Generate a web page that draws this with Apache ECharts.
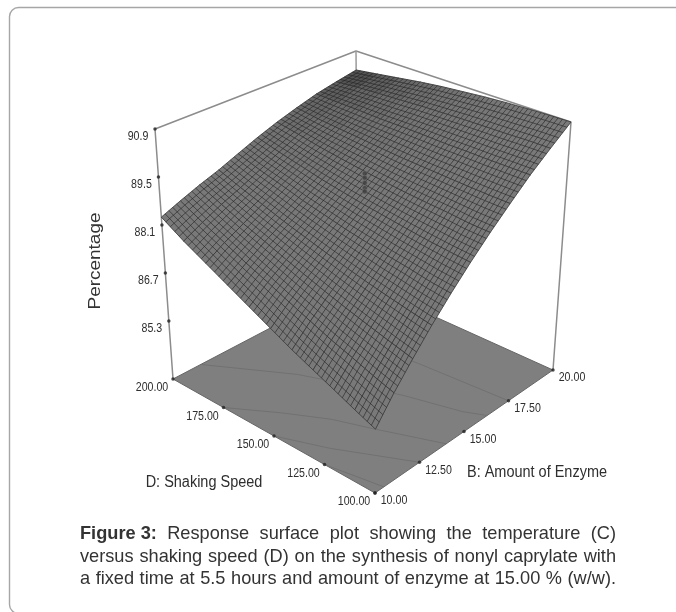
<!DOCTYPE html>
<html><head><meta charset="utf-8">
<style>html,body{margin:0;padding:0;background:#fff}#c{width:676px;height:612px}</style>
<script src="https://cdn.jsdelivr.net/npm/echarts@6/dist/echarts.min.js"></script>
</head><body><div id="c"></div>
<script>
// ---- values ----
const enzymeLevels = [10,11,12,13,14,15,16,17,18,19,20];           // B
const speedLevels  = [100,110,120,130,140,150,160,170,180,190,200]; // D
// response (%): one row per enzyme level, one column per speed level
const responseB10 = [85.34,85.57,85.82,86.07,86.33,86.63,86.94,87.26,87.59,87.93,88.33];
const responseB11 = [86.01,86.19,86.40,86.60,86.84,87.09,87.36,87.62,87.92,88.22,88.56];
const responseB12 = [86.63,86.78,86.94,87.11,87.30,87.51,87.73,87.97,88.21,88.49,88.78];
const responseB13 = [87.24,87.35,87.47,87.60,87.75,87.92,88.10,88.29,88.51,88.73,88.98];
const responseB14 = [87.82,87.89,88.00,88.09,88.21,88.33,88.48,88.63,88.82,89.00,89.22];
const responseB15 = [88.38,88.43,88.49,88.57,88.66,88.75,88.86,88.98,89.13,89.28,89.46];
const responseB16 = [88.92,88.94,89.00,89.04,89.09,89.16,89.24,89.33,89.43,89.56,89.68];
const responseB17 = [89.44,89.45,89.47,89.50,89.53,89.56,89.61,89.67,89.72,89.78,89.87];
const responseB18 = [89.96,89.96,89.96,89.97,89.97,89.99,90.00,90.00,90.02,90.03,90.05];
const responseB19 = [90.43,90.43,90.41,90.40,90.39,90.37,90.35,90.31,90.28,90.24,90.18];
const responseB20 = [90.90,90.89,90.87,90.84,90.80,90.74,90.68,90.60,90.50,90.40,90.30];
const responseTable = [responseB10,responseB11,responseB12,responseB13,responseB14,responseB15,
                       responseB16,responseB17,responseB18,responseB19,responseB20];
const centrePointValues = [89.67,89.55,89.40,89.25,89.15];
const percentTicks = ['85.3','86.7','88.1','89.5','90.9'];
const speedTicks   = ['100.00','125.00','150.00','175.00','200.00'];
const enzymeTicks  = ['10.00','12.50','15.00','17.50','20.00'];
// floor contours as [enzyme, speed] pairs
const contourA = [[10,125],[10.5,100]];
const contourB = [[10,150],[10.9,130],[12.5,100]];
const contourC = [[10,175],[11.3,158],[12.3,142],[12.9,127],[14,100]];
const contourD = [[11.5,200],[13.6,171],[15.25,133],[15.9,109],[16.3,100]];
const contourE = [[17,160],[17.2,143],[17.5,100]];
const captionLead  = 'Figure 3:';
const captionLine1 = 'Response surface plot showing the temperature (C)';
const captionLine2 = 'versus shaking speed (D) on the synthesis of nonyl caprylate with';
const captionLine3 = 'a fixed time at 5.5 hours and amount of enzyme at 15.00 % (w/w).';

// ---- view: a box seen in perspective ----
const zBottom = 83.61, zTop = 90.9;
const floorC = {a:[173,379],b:[375,493],c:[553,370],d:[358,282]}; // (B10,D200) (B10,D100) (B20,D100) (B20,D200)
const topC   = {a:[155,129],b:[377,224],c:[571,122],d:[356,51]};
function bil(q,u,v){
  const f=(k)=> (1-u)*(1-v)*q.b[k]+u*(1-v)*q.c[k]+u*v*q.d[k]+(1-u)*v*q.a[k];
  return [f(0),f(1)];
}
function project(B,D,Z){
  const u=(B-10)/10, v=(D-100)/100, t=(Z-zBottom)/(zTop-zBottom);
  const p=bil(floorC,u,v), q=bil(topC,u,v);
  return [p[0]+(q[0]-p[0])*t, p[1]+(q[1]-p[1])*t];
}
const SUB=5;
const cells=[];
for(let i=enzymeLevels.length-2;i>=0;i--)for(let j=speedLevels.length-2;j>=0;j--)cells.push([i,j]);

function renderCell(params,api){
  const i=api.value(0),j=api.value(1);
  const P=(s,t)=>{
    const B=enzymeLevels[i]+(enzymeLevels[i+1]-enzymeLevels[i])*s;
    const D=speedLevels[j]+(speedLevels[j+1]-speedLevels[j])*t;
    const z=(1-s)*(1-t)*responseTable[i][j]+s*(1-t)*responseTable[i+1][j]+s*t*responseTable[i+1][j+1]+(1-s)*t*responseTable[i][j+1];
    return api.coord(project(B,D,z));
  };
  // the mesh reads darker toward the far corner of the box
  const far=Math.pow(((i+0.5)/10)*((j+0.5)/10),3);
  const g=Math.round(121-50*far), fill='rgb('+g+','+g+','+g+')';
  const kids=[{type:'polygon',shape:{points:[P(0,0),P(1,0),P(1,1),P(0,1)]},style:{fill,stroke:fill,lineWidth:0.5}}];
  const lw=0.9, col='rgba(35,35,35,0.68)';
  for(let k=0;k<=SUB;k++){
    const a=P(k/SUB,0),b=P(k/SUB,1),c=P(0,k/SUB),d=P(1,k/SUB);
    kids.push({type:'line',shape:{x1:a[0],y1:a[1],x2:b[0],y2:b[1]},style:{stroke:col,lineWidth:lw}});
    kids.push({type:'line',shape:{x1:c[0],y1:c[1],x2:d[0],y2:d[1]},style:{stroke:col,lineWidth:lw}});
  }
  return {type:'group',children:kids};
}
const L=(pts,color,w,name)=>({type:'line',name,data:pts,symbol:'none',silent:true,lineStyle:{color,width:w},z:name==='box'?1:3,animation:false});
const floorPts=[project(10,200,zBottom),project(10,100,zBottom),project(20,100,zBottom),project(20,200,zBottom)];
const ticks=(list,fn)=>({type:'scatter',data:list.map((t,i)=>fn(i)),symbol:'circle',symbolSize:3.5,itemStyle:{color:'#222'},silent:true,z:6,animation:false});
const tickText=(list,fn,dx,dy)=>({type:'custom',z:7,silent:true,animation:false,clip:false,data:list.map((t,i)=>fn(i)),
  renderItem:(p,api)=>{const c=api.coord([api.value(0),api.value(1)]);
    return {type:'text',x:c[0]+dx,y:c[1]+dy,scaleX:0.85,style:{text:list[p.dataIndex],font:'12.5px Liberation Sans',fill:'#2e2e2e',align:'center',verticalAlign:'middle'}};}});

// justify caption words between two edges
const mc=document.createElement('canvas').getContext('2d');
const capFont='18.2px Liberation Sans', capBold='bold 18.2px Liberation Sans', capL=80, capR=616, capC='#333';
const capText=[];
function justify(words,y,startX){
  mc.font=capFont;
  const w=words.map(s=>mc.measureText(s).width), tot=w.reduce((a,b)=>a+b,0);
  const gap=(capR-startX-tot)/(words.length-1);
  let x=startX;
  words.forEach((s,i)=>{capText.push({type:'text',x,y,style:{text:s,font:capFont,fill:capC,verticalAlign:'middle'}});x+=w[i]+gap;});
}
mc.font=capBold; const leadW=mc.measureText(captionLead).width;
capText.push({type:'text',x:capL,y:534,style:{text:captionLead,font:capBold,fill:capC,verticalAlign:'middle'}});
mc.font=capFont; const sp=(capR-capL-leadW-mc.measureText(captionLine1.replace(/ /g,'')).width)/captionLine1.split(' ').length;
justify(captionLine1.split(' '),534,capL+leadW+sp);
justify(captionLine2.split(' '),556.5,capL);
justify(captionLine3.split(' '),579,capL);

const option={
  animation:false,
  grid:{left:0,right:0,top:0,bottom:0},
  xAxis:{type:'value',min:0,max:676,show:false},
  yAxis:{type:'value',min:0,max:612,inverse:true,show:false},
  graphic:[
    {type:'rect',z:-1,shape:{x:9.5,y:7.5,width:680,height:606,r:9},style:{fill:'#fff',stroke:'#a6a6a6',lineWidth:1.4}},
    {type:'text',x:95,y:261,rotation:Math.PI/2,scaleX:1.15,style:{text:'Percentage',font:'16.5px Liberation Sans',fill:'#333',align:'center',verticalAlign:'middle'}},
    {type:'text',x:204,y:483,scaleX:0.905,style:{text:'D: Shaking Speed',font:'16px Liberation Sans',fill:'#2e2e2e',align:'center',verticalAlign:'middle'}},
    {type:'text',x:537,y:473,scaleX:0.905,style:{text:'B: Amount of Enzyme',font:'16px Liberation Sans',fill:'#2e2e2e',align:'center',verticalAlign:'middle'}},
    ...capText
  ],
  series:[
    L([project(10,200,zBottom),project(10,200,zTop),project(20,200,zTop),project(20,100,zTop),project(20,100,zBottom)],'#8c8c8c',1.5,'box'),
    L([project(20,200,zTop),project(20,200,zBottom)],'#9a9a9a',1.5,'box'),
    {type:'custom',z:2,silent:true,animation:false,clip:false,data:[floorPts[0]],
      renderItem:(p,api)=>({type:'polygon',shape:{points:floorPts.map(q=>api.coord(q))},style:{fill:'#7f7f7f',stroke:'#666',lineWidth:1}})},
    ...[contourA,contourB,contourC,contourD,contourE].map(c=>L(c.map(q=>project(q[0],q[1],zBottom)),'#6f6f6f',0.9,'contour')),
    {type:'custom',z:4,silent:true,animation:false,clip:false,data:cells,encode:{x:0,y:1},renderItem:renderCell},
    {type:'scatter',z:5,silent:true,animation:false,symbolSize:5,data:centrePointValues.map(z=>project(15,150,z)),
      itemStyle:{color:'#3f3f3f',borderColor:'#7a7a7a',borderWidth:0.6,opacity:0.8}},
    ticks(percentTicks,i=>project(10,200,+percentTicks[i])),
    ticks(speedTicks,i=>project(10,+speedTicks[i],zBottom)),
    ticks(enzymeTicks,i=>project(+enzymeTicks[i],100,zBottom)),
    tickText(percentTicks,i=>project(10,200,+percentTicks[i]),-17,8),
    tickText(speedTicks,i=>project(10,+speedTicks[i],zBottom),-21,9),
    tickText(enzymeTicks,i=>project(+enzymeTicks[i],100,zBottom),19,8)
  ]
};
const chart=echarts.init(document.getElementById('c'),null,{renderer:'canvas'});
chart.setOption(option);
</script></body></html>
